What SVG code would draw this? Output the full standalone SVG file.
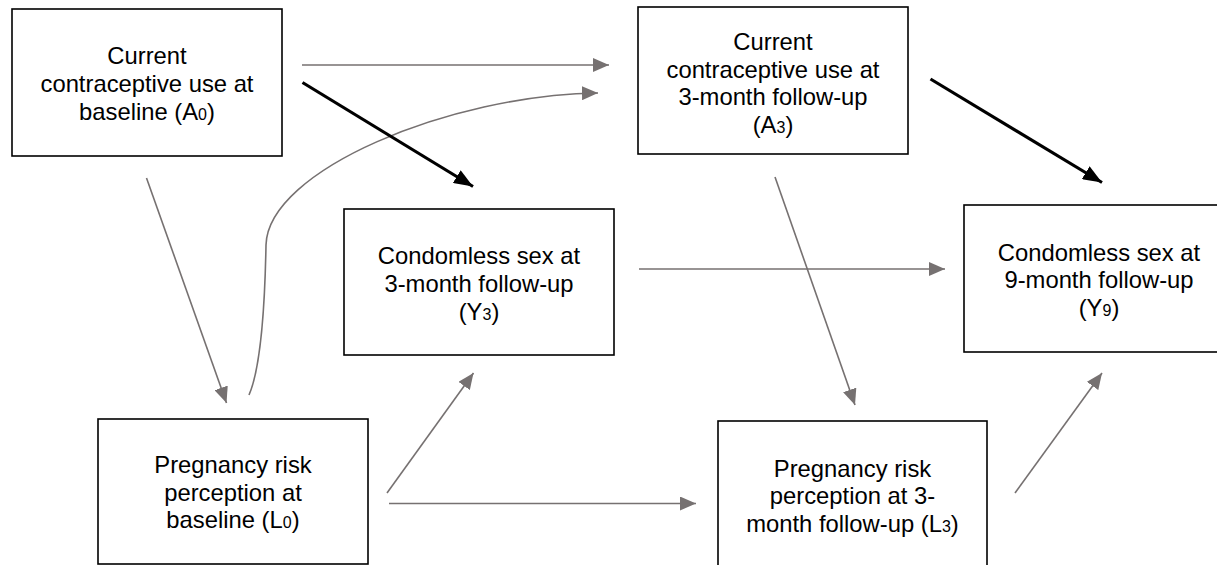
<svg xmlns="http://www.w3.org/2000/svg" width="1217" height="565" viewBox="0 0 1217 565">
<style>
.box{fill:#fff;stroke:#000;stroke-width:1.6}
.lbl{font-family:"Liberation Sans",Arial,sans-serif;font-size:23.8px;fill:#000;text-anchor:middle}
.sub{font-size:16px}
.g{fill:none;stroke:#767171;stroke-width:1.6;marker-end:url(#ag)}
.k{fill:none;stroke:#000;stroke-width:3.2;marker-end:url(#ak)}
</style>
<defs>
<marker id="ag" markerUnits="userSpaceOnUse" markerWidth="16" markerHeight="14" refX="16" refY="7" orient="auto">
<path d="M0,0 L16,7 L0,14 z" fill="#767171"/>
</marker>
<marker id="ak" markerUnits="userSpaceOnUse" markerWidth="19" markerHeight="15" refX="19" refY="7.5" orient="auto">
<path d="M0,0 L19,7.5 L0,15 z" fill="#000"/>
</marker>
</defs>
<rect width="1217" height="565" fill="#fff"/>
<g id="connectors">
<line class="g" x1="302" y1="65" x2="609" y2="65"/>
<path class="g" d="M249,395 C262,365 265,300 266,245 C268,170 450,95 598,93"/>
<line class="k" x1="302.5" y1="82.5" x2="473" y2="186.5"/>
<line class="k" x1="930.5" y1="79" x2="1102" y2="182.5"/>
<line class="g" x1="146.5" y1="178" x2="226.5" y2="403"/>
<line class="g" x1="639" y1="269" x2="945" y2="269"/>
<line class="g" x1="775" y1="177" x2="855" y2="405"/>
<line class="g" x1="387" y1="493" x2="473.5" y2="373"/>
<line class="g" x1="389" y1="503.5" x2="696" y2="503.5"/>
<line class="g" x1="1015" y1="493" x2="1102" y2="373"/>
</g>
<g id="A0">
<rect class="box" x="12" y="9" width="270" height="147"/>
<text class="lbl" x="147" y="64">Current</text>
<text class="lbl" x="147" y="92">contraceptive use at</text>
<text class="lbl" x="147" y="120">baseline (A<tspan class="sub">0</tspan>)</text>
</g>
<g id="A3">
<rect class="box" x="638" y="7" width="270" height="147"/>
<text class="lbl" x="773" y="50">Current</text>
<text class="lbl" x="773" y="78">contraceptive use at</text>
<text class="lbl" x="773" y="105">3-month follow-up</text>
<text class="lbl" x="773" y="133">(A<tspan class="sub">3</tspan>)</text>
</g>
<g id="Y3">
<rect class="box" x="344" y="209" width="270" height="146"/>
<text class="lbl" x="479" y="264">Condomless sex at</text>
<text class="lbl" x="479" y="292">3-month follow-up</text>
<text class="lbl" x="479" y="320">(Y<tspan class="sub">3</tspan>)</text>
</g>
<g id="Y9">
<rect class="box" x="964" y="205" width="270" height="147"/>
<text class="lbl" x="1099" y="261">Condomless sex at</text>
<text class="lbl" x="1099" y="288">9-month follow-up</text>
<text class="lbl" x="1099" y="316">(Y<tspan class="sub">9</tspan>)</text>
</g>
<g id="L0">
<rect class="box" x="98" y="419" width="270" height="145"/>
<text class="lbl" x="233" y="473">Pregnancy risk</text>
<text class="lbl" x="233" y="501">perception at</text>
<text class="lbl" x="233" y="528">baseline (L<tspan class="sub">0</tspan>)</text>
</g>
<g id="L3">
<rect class="box" x="718" y="421" width="269" height="150"/>
<text class="lbl" x="852.5" y="477">Pregnancy risk</text>
<text class="lbl" x="852.5" y="504">perception at 3-</text>
<text class="lbl" x="852.5" y="532">month follow-up (L<tspan class="sub">3</tspan>)</text>
</g>
</svg>
